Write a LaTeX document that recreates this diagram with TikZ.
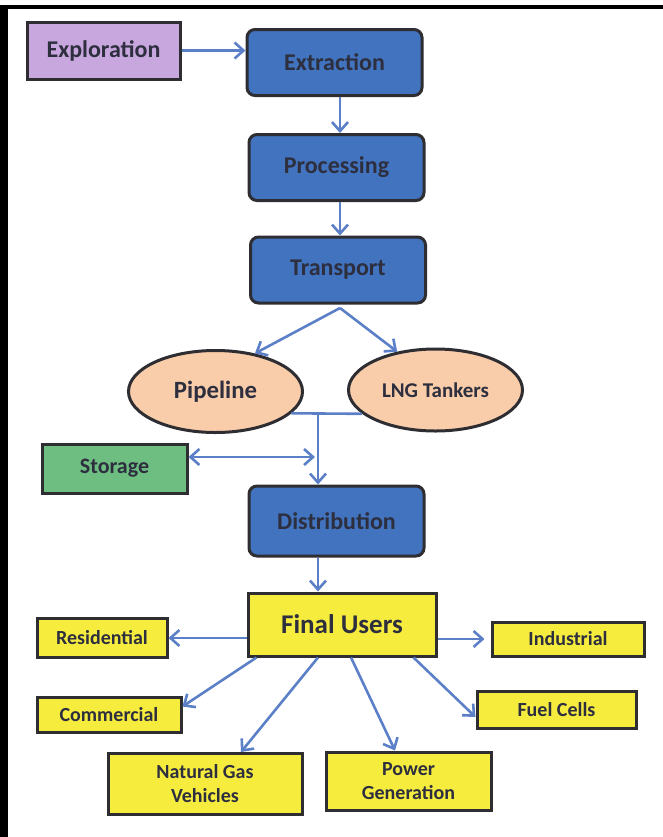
\documentclass[tikz,border=0pt]{standalone}
\usepackage{fontspec}
\setmainfont{Carlito}
\usepackage{tikz}
\usetikzlibrary{arrows.meta,shapes.geometric}
\definecolor{stageblue}{RGB}{65,115,190}
\definecolor{explpurple}{RGB}{200,166,222}
\definecolor{carrierpeach}{RGB}{249,205,170}
\definecolor{storegreen}{RGB}{110,190,130}
\definecolor{useryellow}{RGB}{246,236,62}
\definecolor{boxline}{RGB}{45,45,50}
\definecolor{textdark}{RGB}{45,46,62}
\definecolor{arrowblue}{RGB}{92,128,200}

\begin{document}
\begin{tikzpicture}[x=0.5pt,y=-0.5pt]
\tikzset{box/.style = {draw=boxline, line width=1.5pt, text=textdark, align=center, inner sep=0pt}}
\tikzset{stage/.style = {box, fill=stageblue, rounded corners=4pt, minimum width=87.5pt, minimum height=33pt, font=\bfseries\fontsize{12}{14}\selectfont}}
\tikzset{carrier/.style = {box, shape=ellipse, fill=carrierpeach, minimum width=87pt, minimum height=41pt}}
\tikzset{user/.style = {box, fill=useryellow, font=\bfseries\fontsize{10}{12}\selectfont}}
\tikzset{edge/.style = {->, > = {Straight Barb[length=4.5pt,width=8pt]}, draw=arrowblue, line width=1.3pt}}
\useasboundingbox (0,0) rectangle (663,837);
% frame
\fill[black] (0,5) rectangle (663,9);
\fill[black] (0,5) rectangle (8,837);
% vertices
\node[box, fill=explpurple, minimum width=76.5pt, minimum height=28.5pt, font=\bfseries\fontsize{12}{14}\selectfont] (expl) at (103.5,50.5) {Exploration};
\node[stage] (extr) at (334.5,62.5) {Extraction};
\node[stage] (proc) at (336.5,167.5) {Processing};
\node[stage] (trans) at (338,270) {Transport};
\node[carrier, font=\bfseries\fontsize{12.4}{14}\selectfont] (pipe) at (215.5,391.5) {Pipeline};
\node[carrier, font=\bfseries\fontsize{10.5}{12}\selectfont] (lng) at (435.5,390) {LNG Tankers};
\node[box, fill=storegreen, minimum width=72.5pt, minimum height=24.5pt, font=\bfseries\fontsize{11}{13}\selectfont] (stor) at (114.5,468.5) {Storage};
\node[stage, minimum height=35pt] (dist) at (336.5,521) {Distribution};
\node[user, minimum width=94pt, minimum height=31.5pt, font=\bfseries\fontsize{13.5}{15}\selectfont] (final) at (342,624.5) {Final Users};
\node[user, minimum width=65pt, minimum height=19.5pt] (resid) at (102,638) {Residential};
\node[user, minimum width=76pt, minimum height=17pt] (indus) at (568,639) {Industrial};
\node[user, minimum width=72pt, minimum height=17.5pt] (comm) at (109,714.5) {Commercial};
\node[user, minimum width=79.5pt, minimum height=18.5pt] (fuel) at (556.5,709.5) {Fuel Cells};
\node[user, minimum width=97pt, minimum height=30.5pt] (ngv) at (205,784) {Natural Gas\\Vehicles};
\node[user, minimum width=82.5pt, minimum height=29pt] (power) at (408.5,781) {Power\\Generation};
\coordinate (split) at (340,308);
\coordinate (join) at (318,413);
\coordinate (tap) at (315,457);
%edges
\draw[edge] (expl.east) -- (expl.east -| extr.west);
\draw[edge] (extr.south -| 340,0) -- (340,0 |- proc.north);
\draw[edge] (proc.south -| 340,0) -- (340,0 |- trans.north);
\draw[edge] (split) -- (pipe.44);
\draw[edge] (split) -- (lng.135);
\draw[draw=arrowblue, line width=1.3pt] (pipe.-16) -- (lng.-162);
\draw[edge] (join) -- (join |- dist.north);
\draw[edge, <->] (stor.east |- tap) -- (tap);
\draw[edge] (join |- dist.south) -- (join |- final.north);
\draw[edge] (final.west |- resid) -- (resid.east);
\draw[edge] (final.east |- indus) -- ([xshift=-3pt]indus.west);
\draw[edge] ([xshift=5pt]final.south west) -- ([yshift=4pt]comm.east);
\draw[edge] ([xshift=-12pt]final.south) -- ([xshift=18pt]ngv.north);
\draw[edge] ([xshift=4.5pt]final.south) -- ([xshift=-6.75pt]power.north);
\draw[edge] ([xshift=-12pt]final.south east) -- ([yshift=-3.75pt]fuel.west);
\end{tikzpicture}
\end{document}
